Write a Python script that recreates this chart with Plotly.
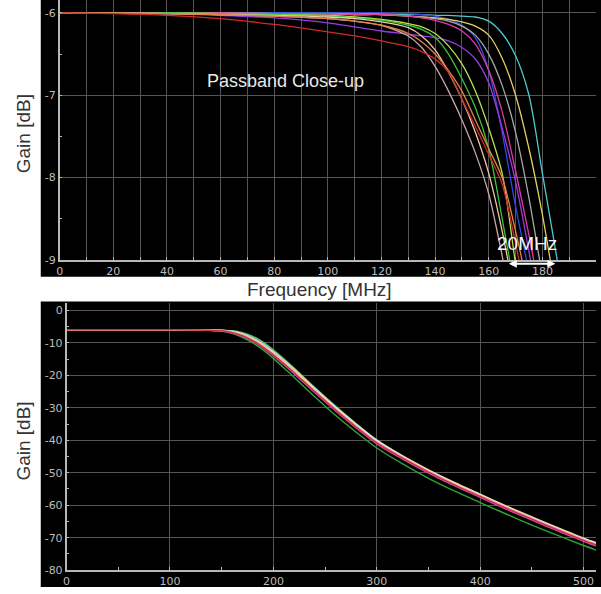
import plotly.graph_objects as go

W, H = 601, 594

# ---------------- data: passband close-up (top) ----------------
freq_top = [0, 20, 40, 60, 80, 100, 110, 120, 130, 135, 140, 145, 150, 155, 160, 165, 170, 175, 180, 185, 190, 195, 200]

gain_cyan = [-6.00, -6.00, -6.00, -6.00, -6.00, -6.00, -6.01, -6.01, -6.02, -6.02, -6.03, -6.03, -6.04, -6.05, -6.10, -6.25, -6.52, -7.00, -7.95, -8.90, -9.90, -10.9, -11.9]
gain_blue = [-6.00, -6.00, -6.00, -6.00, -6.00, -6.00, -6.00, -6.00, -6.01, -6.02, -6.04, -6.08, -6.15, -6.30, -6.70, -7.45, -8.35, -9.15, -10.0, -10.9, -11.8, -12.7, -13.6]
gain_yellow = [-6.00, -6.00, -6.00, -6.00, -6.01, -6.01, -6.02, -6.02, -6.04, -6.05, -6.06, -6.08, -6.11, -6.16, -6.27, -6.55, -7.00, -7.65, -8.45, -9.40, -10.3, -11.2, -12.1]
gain_gray = [-6.00, -6.00, -6.00, -6.00, -6.01, -6.01, -6.02, -6.02, -6.04, -6.05, -6.07, -6.10, -6.16, -6.27, -6.50, -6.88, -7.45, -8.25, -9.20, -10.1, -11.0, -11.9, -12.8]
gain_magenta = [-6.00, -6.00, -6.00, -6.00, -6.01, -6.01, -6.02, -6.02, -6.04, -6.06, -6.09, -6.14, -6.22, -6.38, -6.70, -7.20, -7.92, -8.70, -9.55, -10.4, -11.3, -12.2, -13.1]
gain_purple = [-6.00, -6.00, -6.01, -6.03, -6.06, -6.12, -6.17, -6.22, -6.26, -6.28, -6.30, -6.34, -6.42, -6.56, -6.85, -7.40, -8.05, -8.90, -9.80, -10.7, -11.6, -12.5, -13.4]
gain_lime = [-6.00, -6.00, -6.00, -6.01, -6.02, -6.03, -6.05, -6.08, -6.13, -6.17, -6.25, -6.40, -6.62, -6.95, -7.40, -7.95, -9.05, -10.1, -11.0, -11.9, -12.8, -13.7, -14.6]
gain_green = [-6.00, -6.00, -6.00, -6.01, -6.02, -6.04, -6.06, -6.09, -6.15, -6.20, -6.30, -6.50, -6.80, -7.15, -7.65, -8.50, -9.40, -10.3, -11.2, -12.1, -13.0, -13.9, -14.8]
gain_peach = [-6.00, -6.00, -6.01, -6.02, -6.03, -6.05, -6.07, -6.11, -6.18, -6.28, -6.45, -6.72, -7.05, -7.45, -7.95, -8.65, -9.50, -10.4, -11.3, -12.2, -13.1, -14.0, -14.9]
gain_pinkgray = [-6.00, -6.00, -6.01, -6.02, -6.04, -6.07, -6.10, -6.15, -6.28, -6.42, -6.65, -6.95, -7.30, -7.70, -8.20, -8.95, -9.80, -10.7, -11.6, -12.5, -13.4, -14.3, -15.2]
gain_orange = [-6.00, -6.00, -6.01, -6.02, -6.04, -6.07, -6.10, -6.15, -6.25, -6.35, -6.50, -6.70, -6.95, -7.30, -7.65, -8.00, -8.65, -9.40, -10.2, -11.1, -12.0, -12.9, -13.8]
gain_red = [-6.00, -6.01, -6.03, -6.07, -6.14, -6.23, -6.28, -6.34, -6.41, -6.47, -6.56, -6.72, -7.05, -7.38, -7.72, -8.08, -8.80, -9.60, -10.4, -11.3, -12.2, -13.1, -14.0]

top_series = [
    ("cyan", gain_cyan, "#4ccaca"),
    ("blue", gain_blue, "#3448e6"),
    ("yellow", gain_yellow, "#e2d25a"),
    ("gray", gain_gray, "#a8a8a8"),
    ("magenta", gain_magenta, "#e03c9e"),
    ("purple", gain_purple, "#9a3ae2"),
    ("lime", gain_lime, "#b4e254"),
    ("green", gain_green, "#3cc23c"),
    ("peach", gain_peach, "#f0caa2"),
    ("pinkgray", gain_pinkgray, "#caa6a6"),
    ("orange", gain_orange, "#e2824a"),
    ("red", gain_red, "#d02a2a"),
]

top_xticks = [0, 20, 40, 60, 80, 100, 120, 140, 160, 180, 200]
top_yticks = [-9, -8, -7, -6]
top_yticktext = ["-9", "-8", "-7", "-6"]

# ---------------- data: full response (bottom) ----------------
freq_bot = [0, 50, 100, 130, 150, 160, 170, 180, 190, 200, 210, 220, 240, 260, 280, 300, 325, 350, 375, 400, 425, 450, 475, 500, 512]

bot_green = [-6, -6, -6, -6.08, -6.4, -7.1, -8.3, -10.0, -12.2, -14.8, -17.7, -20.6, -26.6, -32.3, -37.5, -42.4, -47.3, -51.7, -55.6, -59.2, -62.7, -66.1, -69.3, -72.4, -73.8]
bot_teal = [-6, -6, -6, -6.01, -6.1, -6.3, -6.9, -8.0, -9.8, -12.2, -14.9, -17.8, -23.8, -29.5, -34.9, -39.9, -44.9, -49.4, -53.4, -57.0, -60.6, -64.0, -67.3, -70.4, -71.8]
bot_blue = [-6, -6, -6, -6.04, -6.3, -6.85, -7.9, -9.4, -11.4, -13.85, -16.55, -19.35, -25.15, -30.75, -36.05, -40.95, -45.65, -49.95, -53.85, -57.45, -61.05, -64.45, -67.75, -70.95, -72.35]
bot_magenta = [-6, -6, -6, -6.05, -6.35, -6.9, -7.95, -9.5, -11.5, -14.0, -16.7, -19.5, -25.3, -30.9, -36.2, -41.1, -45.8, -50.1, -54.0, -57.6, -61.2, -64.6, -67.9, -71.1, -72.5]
bot_yellow = [-6, -6, -6, -6.02, -6.15, -6.45, -7.2, -8.5, -10.3, -12.7, -15.3, -18.1, -24.0, -29.7, -35.0, -40.0, -44.8, -49.1, -53.0, -56.6, -60.2, -63.6, -66.9, -70.1, -71.5]
bot_white = [-6, -6, -6, -6.03, -6.2, -6.6, -7.5, -8.8, -10.7, -13.1, -15.8, -18.6, -24.4, -30.0, -35.3, -40.2, -45.0, -49.3, -53.2, -56.8, -60.4, -63.8, -67.1, -70.3, -71.7]
bot_pink = [-6, -6, -6, -6.04, -6.25, -6.7, -7.6, -9.0, -11.0, -13.4, -16.1, -18.9, -24.7, -30.3, -35.6, -40.5, -45.2, -49.5, -53.4, -57.0, -60.6, -64.0, -67.3, -70.5, -71.9]
bot_red = [-6, -6, -6, -6.05, -6.3, -6.8, -7.8, -9.3, -11.3, -13.7, -16.4, -19.2, -25.0, -30.6, -35.9, -40.8, -45.5, -49.8, -53.7, -57.3, -60.9, -64.3, -67.6, -70.8, -72.2]

bot_series = [
    ("green", bot_green, "#2ea42e"),
    ("teal", bot_teal, "#44c4a4"),
    ("blue", bot_blue, "#5454e4"),
    ("magenta", bot_magenta, "#d444c4"),
    ("yellow", bot_yellow, "#e8e070"),
    ("white", bot_white, "#e4e4e4"),
    ("pink", bot_pink, "#f0a2c2"),
    ("red", bot_red, "#d03030"),
]

bot_xticks = [0, 100, 200, 300, 400, 500]
bot_yticks = [0, -10, -20, -30, -40, -50, -60, -70, -80]
bot_yticktext = ["0", "-10", "-20", "-30", "-40", "-50", "-60", "-70", "-80"]

# ---------------- figure ----------------
def px(x):
    return x / W

def py(y):
    return 1 - y / H

fig = go.Figure()

for name, g, c in top_series:
    fig.add_trace(go.Scatter(x=freq_top, y=g, mode="lines", name=name,
                             line=dict(color=c, width=1.3, shape="spline", smoothing=0.8),
                             xaxis="x", yaxis="y", showlegend=False, hoverinfo="skip"))

for name, g, c in bot_series:
    fig.add_trace(go.Scatter(x=freq_bot, y=g, mode="lines", name=name,
                             line=dict(color=c, width=1.4, shape="spline", smoothing=0.8),
                             xaxis="x2", yaxis="y2", showlegend=False, hoverinfo="skip"))

AXC = "#b8b8b8"
GRID = "#555555"
TICKFONT = dict(family="DejaVu Sans", size=11, color="#bdbdbd")

common = dict(showline=True, linecolor=AXC, linewidth=1.5, zeroline=False,
              showgrid=True, gridcolor=GRID, gridwidth=1,
              ticks="inside", ticklen=3, tickcolor=AXC, tickfont=TICKFONT)

fig.update_layout(
    width=W, height=H, autosize=False,
    margin=dict(l=0, r=0, t=0, b=0, pad=0),
    paper_bgcolor="white", plot_bgcolor="rgba(0,0,0,0)",
    xaxis=dict(domain=[px(56), px(596)], range=[0, 200], anchor="y",
               tickvals=top_xticks,
               minor=dict(tick0=0, dtick=10, ticks="inside", ticklen=3, tickcolor=AXC,
                          showgrid=True, gridcolor=GRID, gridwidth=1),
               **common),
    yaxis=dict(domain=[py(263), py(0)], range=[-9, -6 + 13 / 83], anchor="x",
               tickvals=top_yticks, ticktext=top_yticktext,
               minor=dict(tick0=0, dtick=0.5, ticks="inside", ticklen=3, tickcolor=AXC, showgrid=False),
               **common),
    xaxis2=dict(domain=[px(63), px(596)], range=[0, 512], anchor="y2",
                tickvals=bot_xticks,
                minor=dict(tick0=0, dtick=50, ticks="inside", ticklen=3, tickcolor=AXC, showgrid=False),
                **common),
    yaxis2=dict(domain=[py(577), py(307)], range=[-80, 7 / 3.2875], anchor="x2",
                tickvals=bot_yticks, ticktext=bot_yticktext,
                minor=dict(tick0=0, dtick=5, ticks="inside", ticklen=3, tickcolor=AXC, showgrid=False),
                **common),
)

# black panels
fig.add_shape(type="rect", xref="paper", yref="paper", x0=px(37), x1=1.0, y0=py(280), y1=1.0,
              fillcolor="black", line=dict(width=0), layer="below")
fig.add_shape(type="rect", xref="paper", yref="paper", x0=px(37), x1=1.0, y0=0.0, y1=py(305),
              fillcolor="black", line=dict(width=0), layer="below")

TITLEFONT = dict(family="Liberation Sans, Arial", size=19, color="#333333")

fig.add_annotation(text="Gain [dB]", x=px(20), y=py(135), xref="paper", yref="paper",
                   showarrow=False, textangle=-90, font=TITLEFONT, xanchor="center", yanchor="middle")
fig.add_annotation(text="Gain [dB]", x=px(20), y=py(446), xref="paper", yref="paper",
                   showarrow=False, textangle=-90, font=TITLEFONT, xanchor="center", yanchor="middle")
fig.add_annotation(text="Frequency [MHz]", x=px(318), y=py(293), xref="paper", yref="paper",
                   showarrow=False, font=TITLEFONT, xanchor="center", yanchor="middle")
fig.add_annotation(text="Passband Close-up", x=px(283), y=py(82), xref="paper", yref="paper",
                   showarrow=False, font=dict(family="Liberation Sans, Arial", size=18, color="#e8e8e8"),
                   xanchor="center", yanchor="middle")
fig.add_annotation(text="20MHz", x=px(527), y=py(246), xref="paper", yref="paper",
                   showarrow=False, font=dict(family="Liberation Sans, Arial", size=19, color="#f4f4f4"),
                   xanchor="center", yanchor="middle")
fig.add_annotation(text="", x=px(555), y=py(267), xref="paper", yref="paper",
                   showarrow=True, ax=-48, ay=0, arrowside="end+start", arrowhead=2,
                   startarrowhead=2, arrowsize=0.8, startarrowsize=0.8, arrowwidth=2,
                   arrowcolor="white")

fig.write_html("out.html", config={"displayModeBar": False},
               post_script="document.body.style.margin='0px';document.body.style.overflow='hidden';")
